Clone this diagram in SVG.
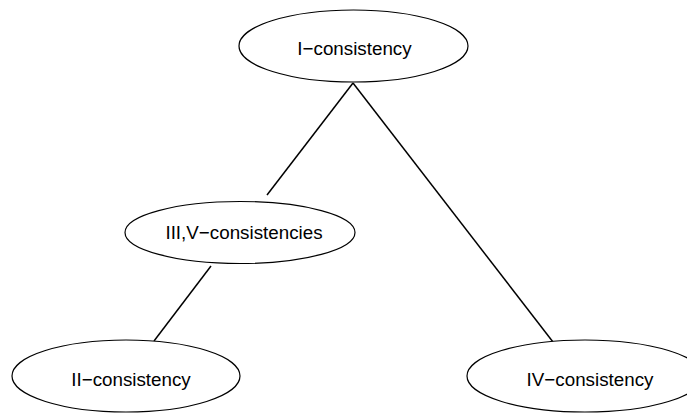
<svg xmlns="http://www.w3.org/2000/svg" width="687" height="414" viewBox="0 0 687 414">
<style>
.n{fill:#fff;stroke:#000;stroke-width:1.2}
.t{font-family:"Liberation Sans",Arial,sans-serif;font-size:18.8px;fill:#000;text-anchor:middle}
.e{stroke:#000;stroke-width:1.5;fill:none}
</style>
<rect width="687" height="414" fill="#fff"/>
<g id="edges">
<line class="e" x1="353" y1="83" x2="267" y2="195"/>
<line class="e" x1="353" y1="83" x2="553" y2="342"/>
<line class="e" x1="211" y1="266" x2="154" y2="341"/>
</g>
<g id="n1"><ellipse class="n" cx="353.5" cy="46" rx="114.5" ry="36"/><text class="t" x="354.5" y="55">I−consistency</text></g>
<g id="n2"><ellipse class="n" cx="240" cy="232.5" rx="115" ry="31"/><text class="t" x="244" y="239">III,V−consistencies</text></g>
<g id="n3"><ellipse class="n" cx="126" cy="376" rx="114" ry="36"/><text class="t" x="131" y="386">II−consistency</text></g>
<g id="n4"><ellipse class="n" cx="585" cy="376" rx="118" ry="36"/><text class="t" x="590" y="386">IV−consistency</text></g>
</svg>
